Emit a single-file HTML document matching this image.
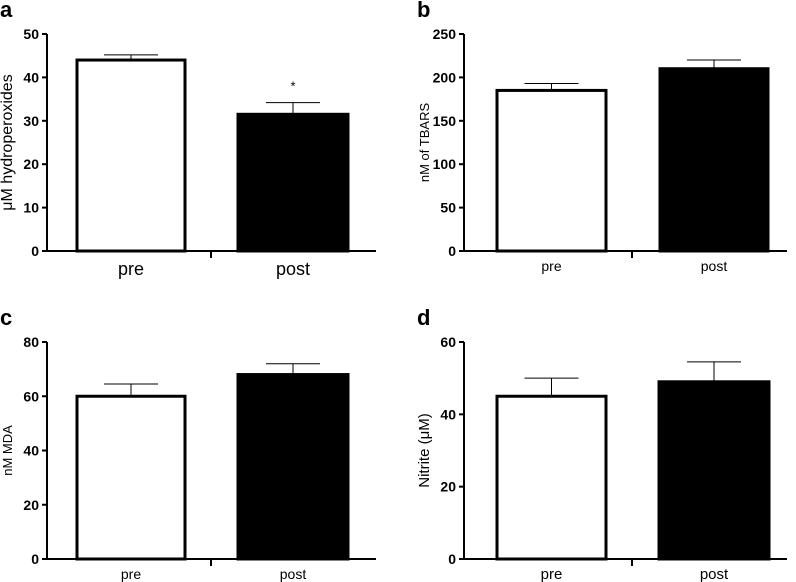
<!DOCTYPE html>
<html><head><meta charset="utf-8"><style>
body{margin:0;background:#fff}
svg{display:block;font-family:"Liberation Sans",Arial,sans-serif}
</style></head><body>
<svg id="c" width="796" height="582" viewBox="0 0 796 582"></svg>
<script>
const categories=["pre","post"];
const valsA=[44,31.5], errA=[1.2,2.7], ticksA=[0,10,20,30,40,50];
const valsB=[185,210], errB=[8,10], ticksB=[0,50,100,150,200,250];
const valsC=[60,68], errC=[4.5,4], ticksC=[0,20,40,60,80];
const valsD=[45,49], errD=[5,5.5], ticksD=[0,20,40,60];
const panels=[
 {id:"a",vals:valsA,err:errA,ticks:ticksA,title:"\u03bcM hydroperoxides",ax:47,top:34,bot:251,end:376,bars:[[77,185],[238,348]],mid:211,catSize:18,star:true},
 {id:"b",vals:valsB,err:errB,ticks:ticksB,title:"nM of TBARS",ax:464,top:34,bot:251,end:787,bars:[[497,606],[660,768]],mid:632,catSize:14},
 {id:"c",vals:valsC,err:errC,ticks:ticksC,title:"nM MDA",ax:47,top:342,bot:559,end:376,bars:[[77,185],[238,348]],mid:211,catSize:14},
 {id:"d",vals:valsD,err:errD,ticks:ticksD,title:"Nitrite (\u03bcM)",ax:464,top:342,bot:559,end:787,bars:[[497,606],[659,769]],mid:632,catSize:15}
];
const svg=document.getElementById('c');const NS="http://www.w3.org/2000/svg";
function mk(t,a,p){const e=document.createElementNS(NS,t);for(const k in a)e.setAttribute(k,a[k]);(p||svg).appendChild(e);return e;}
panels.forEach(p=>{
 const g=mk('g',{});
 
 
 const max=p.ticks[p.ticks.length-1];
 const y=v=>p.bot-(v/max)*(p.bot-p.top);
 const lt=mk('text',{x:p.ax-47,y:p.top-17,'font-size':22,'font-weight':'bold'},g);lt.textContent=p.id;
 
 
 p.vals.forEach((v,i)=>{
  const [x0,x1]=p.bars[i];const cx=(x0+x1)/2;
  const el=mk('line',{x1:cx,x2:cx,y1:y(v),y2:y(v+p.err[i]),stroke:'#000','stroke-width':1},g);
  
  
  const cap=mk('line',{x1:cx-27,x2:cx+27,y1:y(v+p.err[i]),y2:y(v+p.err[i]),stroke:'#000','stroke-width':1},g);
  
  
  const r=mk('rect',{x:x0,y:y(v),width:x1-x0,height:p.bot-y(v),fill:i?'#000':'#fff',stroke:'#000','stroke-width':3},g);
  
  
  const t=mk('text',{x:cx,y:p.bot+(p.catSize>16?24:20),'font-size':p.catSize,'text-anchor':'middle'},g);t.textContent=categories[i];
  
  
  if(p.star&&i==1){const s=mk('text',{x:cx,y:y(v+p.err[i])-12,'font-size':13,'text-anchor':'middle'},g);s.textContent='*';
   
   }
 });
 const ya=mk('line',{x1:p.ax,x2:p.ax,y1:p.top,y2:p.bot+1,stroke:'#000','stroke-width':2},g);
 
 
 const xa=mk('line',{x1:p.ax,x2:p.end,y1:p.bot,y2:p.bot,stroke:'#000','stroke-width':2},g);
 
 
 mk('line',{x1:p.mid,x2:p.mid,y1:p.bot,y2:p.bot+7,stroke:'#000','stroke-width':2},g);
 p.ticks.forEach(t=>{
  mk('line',{x1:p.ax-5,x2:p.ax,y1:y(t),y2:y(t),stroke:'#000','stroke-width':2},g);
  const tx=mk('text',{x:p.ax-8,y:y(t)+5,'font-size':14,'font-weight':'bold','text-anchor':'end'},g);tx.textContent=t;
  
  
 });
 const yt=mk('text',{transform:`translate(${p.ax-35},${(p.top+p.bot)/2}) rotate(-90)`,'font-size':p.id=='a'?16:(p.id=='d'?15:13),'text-anchor':'middle'},g);yt.textContent=p.title;
 
 
});
</script>
</body></html>
